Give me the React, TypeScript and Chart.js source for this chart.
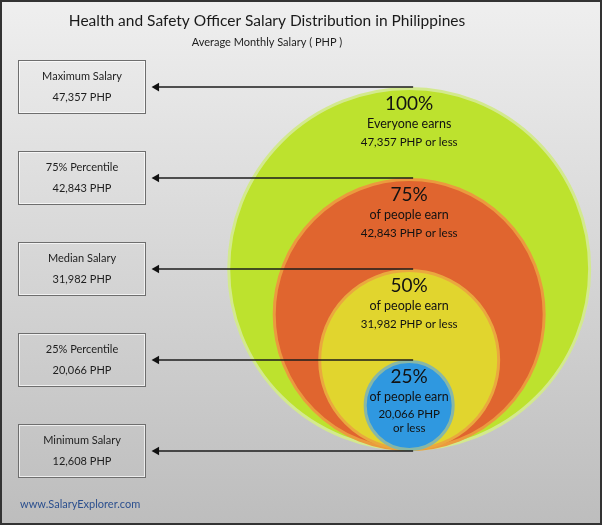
import { useEffect, useRef } from 'react'
import { Chart, registerables } from 'chart.js'

Chart.register(...registerables)

const TITLE = 'Health and Safety Officer Salary Distribution in Philippines'
const SUBTITLE = 'Average Monthly Salary ( PHP )'
const FOOTER = 'www.SalaryExplorer.com'
const CURRENCY = 'PHP'

// percentile levels, top to bottom
const LEVELS = [100, 75, 50, 25, 0]
const LEVEL_NAMES = ['Maximum Salary', '75% Percentile', 'Median Salary', '25% Percentile', 'Minimum Salary']
const SALARIES = [47357, 42843, 31982, 20066, 12608]
const CIRCLE_CAPTIONS = ['Everyone earns', 'of people earn', 'of people earn', 'of people earn']

const CIRCLE_FILLS = ['#bde22e', '#e0652f', '#e1d52e', '#2f98e0']
const CIRCLE_BORDERS = ['#d3e98e', '#eb9a3e', '#eaa83e', '#88b7a6']

const FONT = 'Lato, "Open Sans", sans-serif'
const CENTER_X = 408
const ARROW_END_X = 412
const ARROW_TIP_X = 148
const HEAD = 5
const BOX_LEFT = 18
const BOX_W = 127
const BOX_H = 53
const RING = 3

const fmt = (n: number) => n.toLocaleString('en-US')

const backdrop = {
  id: 'backdrop',
  beforeDraw(chart: Chart) {
    const { ctx, width, height } = chart
    ctx.save()
    const g = ctx.createLinearGradient(0, 0, 0, height)
    g.addColorStop(0, '#efefef')
    g.addColorStop(1, '#bdbdbd')
    ctx.fillStyle = g
    ctx.fillRect(0, 0, width, height)
    ctx.strokeStyle = '#333'
    ctx.lineWidth = 2
    ctx.strokeRect(1, 1, width - 2, height - 2)
    ctx.restore()
  },
}

const boxes = {
  id: 'boxes',
  beforeDatasetsDraw(chart: Chart) {
    const { ctx } = chart
    const y = chart.scales.y
    ctx.save()
    LEVELS.forEach((lv, i) => {
      const cy = Math.round(y.getPixelForValue(lv))
      const top = cy - Math.round(BOX_H / 2)
      ctx.strokeStyle = '#6e6e6e'
      ctx.lineWidth = 1
      ctx.strokeRect(BOX_LEFT + 0.5, top + 0.5, BOX_W, BOX_H)
      ctx.strokeStyle = 'rgba(255,255,255,0.7)'
      ctx.strokeRect(BOX_LEFT + 1.5, top + 1.5, BOX_W - 2, BOX_H - 2)
      ctx.fillStyle = '#1e1e1e'
      ctx.font = `11px ${FONT}`
      ctx.textAlign = 'center'
      ctx.textBaseline = 'middle'
      const mid = BOX_LEFT + BOX_W / 2 + 0.5
      ctx.fillText(LEVEL_NAMES[i], mid, cy - 11)
      ctx.fillText(`${fmt(SALARIES[i])} ${CURRENCY}`, mid, cy + 10)
    })
    ctx.restore()
  },
}

const circleText = {
  id: 'circleText',
  afterDatasetsDraw(chart: Chart) {
    const { ctx } = chart
    const x = chart.scales.x
    const y = chart.scales.y
    ctx.save()
    ctx.textAlign = 'center'
    ctx.textBaseline = 'middle'
    ctx.fillStyle = '#121212'
    CIRCLE_CAPTIONS.forEach((caption, i) => {
      const top = y.getPixelForValue(LEVELS[i])
      const r = (y.getPixelForValue(0) - top) / 2
      const cx = x.getPixelForValue(CENTER_X)
      ctx.font = `19px ${FONT}`
      ctx.fillText(`${LEVELS[i]}%`, cx, top + 17)
      ctx.font = `12.5px ${FONT}`
      ctx.fillText(caption, cx, top + 37)
      ctx.font = `11.5px ${FONT}`
      const line = `${fmt(SALARIES[i])} ${CURRENCY} or less`
      if (ctx.measureText(line).width > r * 1.6) {
        ctx.fillText(`${fmt(SALARIES[i])} ${CURRENCY}`, cx, top + 54)
        ctx.fillText('or less', cx, top + 68)
      } else {
        ctx.fillText(line, cx, top + 55)
      }
    })
    ctx.font = `11px ${FONT}`
    ctx.fillStyle = '#2b4f8e'
    ctx.textAlign = 'left'
    ctx.fillText(FOOTER, 20, 504)
    ctx.restore()
  },
}

export default function App() {
  const chartRef = useRef<HTMLCanvasElement>(null)
  const chartInstance = useRef<Chart | null>(null)

  useEffect(() => {
    document.body.style.margin = '0'
    if (!chartRef.current) return
    const ctx = chartRef.current.getContext('2d')
    if (!ctx) return

    if (chartInstance.current) {
      chartInstance.current.destroy()
    }

    const ringRadius = (c: any) => {
      const y = c.chart.scales.y
      if (!y) return 0
      const r = (y.getPixelForValue(0) - y.getPixelForValue(LEVELS[c.dataIndex])) / 2 - RING / 2
      return Number.isFinite(r) && r > 0 ? r : 0
    }

    const arrows = LEVELS.map((lv) => ({
      type: 'line' as const,
      data: [
        { x: ARROW_TIP_X + HEAD, y: lv },
        { x: ARROW_END_X, y: lv },
      ],
      borderColor: '#1c1c1c',
      borderWidth: 1.6,
      pointStyle: 'triangle' as const,
      pointRotation: 270,
      pointRadius: [HEAD, 0],
      pointBackgroundColor: '#111',
      pointBorderWidth: 0,
      order: 0,
      clip: false as const,
    }))

    const circles = {
      type: 'scatter' as const,
      showLine: false,
      data: CIRCLE_CAPTIONS.map((_, i) => ({ x: CENTER_X, y: LEVELS[i] / 2 })),
      pointBackgroundColor: CIRCLE_FILLS,
      pointBorderColor: CIRCLE_BORDERS,
      pointBorderWidth: RING,
      pointRadius: ringRadius,
      pointHoverRadius: ringRadius,
      order: 1,
      clip: false as const,
    }

    chartInstance.current = new Chart(ctx, {
      type: 'scatter',
      data: { datasets: [...arrows, circles] as any },
      options: {
        responsive: true,
        maintainAspectRatio: false,
        animation: false,
        events: [],
        layout: { padding: { left: 0, right: 68, top: 0, bottom: 40 } },
        plugins: {
          legend: { display: false },
          tooltip: { enabled: false },
          title: {
            display: true,
            text: TITLE,
            color: '#1a1a1a',
            font: { family: FONT, size: 15.5, weight: 'normal' },
            padding: { top: 11.5, bottom: 5.8 },
          },
          subtitle: {
            display: true,
            text: SUBTITLE,
            color: '#1e1e1e',
            font: { family: FONT, size: 11, weight: 'normal' },
            padding: { top: 0, bottom: 10.3 },
          },
        },
        scales: {
          x: { type: 'linear', min: 0, max: 534, display: false },
          y: { type: 'linear', min: -9.35, max: 107.6, display: false },
        },
      },
      plugins: [backdrop, boxes, circleText],
    })

    return () => {
      if (chartInstance.current) {
        chartInstance.current.destroy()
        chartInstance.current = null
      }
    }
  }, [])

  return (
    <div style={{ position: 'relative', width: 602, height: 525 }}>
      <canvas ref={chartRef} />
    </div>
  )
}
